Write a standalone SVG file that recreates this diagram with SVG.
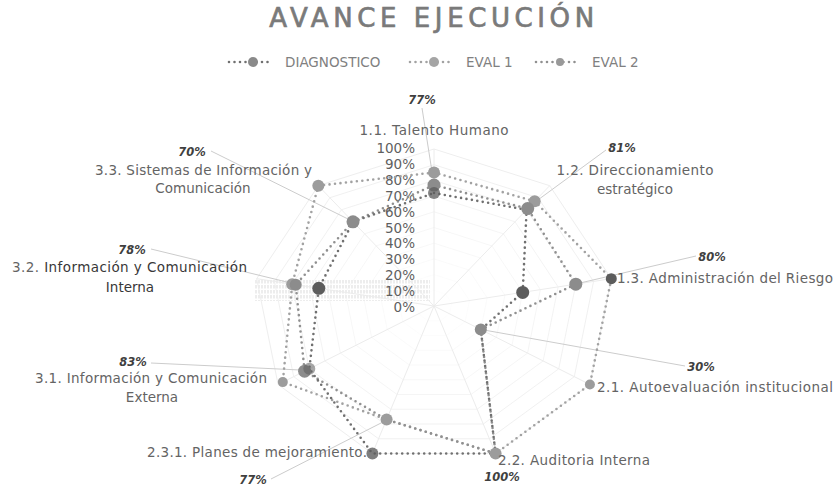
<svg xmlns="http://www.w3.org/2000/svg" width="836" height="490" viewBox="0 0 836 490">
<style>
  .title{font-family:"DejaVu Sans","Liberation Sans",sans-serif;font-size:26px;fill:#7a7a7a;stroke:#7a7a7a;stroke-width:0.7px;letter-spacing:4.6px}
  .leg{font-family:"DejaVu Sans","Liberation Sans",sans-serif;font-size:13.5px;fill:#808080}
  .cat{font-family:"DejaVu Sans","Liberation Sans",sans-serif;font-size:13.5px;fill:#646464}
  .catd{fill:#383838}
  .tick{font-family:"DejaVu Sans","Liberation Sans",sans-serif;font-size:13.5px;fill:#5f5f5f;text-anchor:end}
  .val{font-family:"DejaVu Sans","Liberation Sans",sans-serif;font-size:11.5px;font-weight:bold;font-style:italic;fill:#3f3f3f;text-anchor:middle}
  .grid{fill:none;stroke:#eeeeee;stroke-width:1;vector-effect:non-scaling-stroke}
  .axis{stroke:#ececec;stroke-width:1}
  .lead{stroke:#cccccc;stroke-width:1;fill:none}
  .ser{fill:none;stroke-width:2.6;stroke-dasharray:0 5.5;stroke-linecap:round;stroke-linejoin:round}
  .sD{stroke:#707070}
  .sA{stroke:#a2a2a2}
  .sL{stroke:#909090}
  .mD{fill:#5c5c5c}
  .mA{fill:#9c9c9c}
  .mL{fill:#8c8c8c}
</style>
<defs>
  <polygon id="ring" points="0,-157 115.7,-120.3 177.3,-27.3 155.9,78.5 61.6,147.5 -61.6,147.5 -155.9,78.5 -177.3,-27.3 -115.7,-120.3"/>
  <pattern id="hatch" width="3" height="5" patternUnits="userSpaceOnUse">
    <line x1="1" y1="0" x2="1" y2="3.5" stroke="#d2d2d2" stroke-width="1"/>
  </pattern>
</defs>
<rect width="836" height="490" fill="#fff"/>

<text class="title" x="434" y="27" text-anchor="middle">AVANCE EJECUCIÓN</text>

<g id="legend">
  <line class="ser sD" x1="229" y1="62" x2="271" y2="62" stroke-width="2" stroke="#999"/>
  <circle cx="253" cy="62" r="5" fill="#8a8a8a"/>
  <text class="leg" x="285" y="67">DIAGNOSTICO</text>
  <line class="ser sA" x1="410" y1="62" x2="452" y2="62" stroke-width="2"/>
  <circle cx="434" cy="62" r="5" fill="#a5a5a5"/>
  <text class="leg" x="466" y="67">EVAL 1</text>
  <line class="ser sL" x1="536" y1="62" x2="578" y2="62" stroke-width="2" stroke="#a0a0a0"/>
  <circle cx="560" cy="62" r="4" fill="#999"/>
  <text class="leg" x="592" y="67">EVAL 2</text>
</g>

<g id="grid">
  <rect x="255" y="279" width="175" height="22" fill="url(#hatch)" opacity="0.8"/>
  <use href="#ring" class="grid" transform="translate(434,306) scale(0.1)"/>
  <use href="#ring" class="grid" transform="translate(434,306) scale(0.2)"/>
  <use href="#ring" class="grid" transform="translate(434,306) scale(0.3)"/>
  <use href="#ring" class="grid" transform="translate(434,306) scale(0.4)"/>
  <use href="#ring" class="grid" transform="translate(434,306) scale(0.5)"/>
  <use href="#ring" class="grid" transform="translate(434,306) scale(0.6)"/>
  <use href="#ring" class="grid" transform="translate(434,306) scale(0.7)"/>
  <use href="#ring" class="grid" transform="translate(434,306) scale(0.8)"/>
  <use href="#ring" class="grid" transform="translate(434,306) scale(0.9)"/>
  <use href="#ring" class="grid" transform="translate(434,306) scale(1)"/>
  <line class="axis" x1="434" y1="306" x2="434" y2="149"/>
  <line class="axis" x1="434" y1="306" x2="549.7" y2="185.7"/>
  <line class="axis" x1="434" y1="306" x2="611.3" y2="278.7"/>
  <line class="axis" x1="434" y1="306" x2="589.9" y2="384.5"/>
  <line class="axis" x1="434" y1="306" x2="495.6" y2="453.5"/>
  <line class="axis" x1="434" y1="306" x2="372.4" y2="453.5"/>
  <line class="axis" x1="434" y1="306" x2="278.1" y2="384.5"/>
  <line class="axis" x1="434" y1="306" x2="256.7" y2="278.7"/>
  <line class="axis" x1="434" y1="306" x2="318.3" y2="185.7"/>
</g>

<g id="ticks">
  <text class="tick" x="415" y="312">0%</text>
  <text class="tick" x="415" y="296.1">10%</text>
  <text class="tick" x="415" y="280.2">20%</text>
  <text class="tick" x="415" y="264.3">30%</text>
  <text class="tick" x="415" y="248.4">40%</text>
  <text class="tick" x="415" y="232.5">50%</text>
  <text class="tick" x="415" y="216.6">60%</text>
  <text class="tick" x="415" y="200.7">70%</text>
  <text class="tick" x="415" y="184.8">80%</text>
  <text class="tick" x="415" y="168.9">90%</text>
  <text class="tick" x="415" y="153">100%</text>
</g>

<g id="connectors">
  <line class="lead" x1="422" y1="108" x2="433" y2="178"/>
  <line class="lead" x1="606" y1="150" x2="531" y2="205"/>
  <line class="lead" x1="696" y1="256" x2="580" y2="283"/>
  <line class="lead" x1="685" y1="366" x2="484" y2="330"/>
  <line class="lead" x1="271" y1="479" x2="383" y2="422"/>
  <line class="lead" x1="151" y1="363" x2="300" y2="370"/>
  <line class="lead" x1="151" y1="249" x2="291" y2="283"/>
  <line class="lead" x1="211" y1="151" x2="350" y2="220"/>
  <polygon class="ser sA" points="434,172.5 534.7,201.3 611.3,278.7 589.9,384.5 495.6,453.5 386.6,419.6 282.8,382.1 292.2,284.2 318.3,185.7"/>
  <polygon class="ser sL" points="434,185.1 527.7,208.6 575.8,284.2 480.8,329.6 495.6,453.5 386.6,419.6 304.6,371.2 295.7,284.7 353,221.8"/>
  <polygon class="ser sD" points="434,193 526.6,209.8 522.7,292.4 480.8,329.6 495.6,453.5 372.4,453.5 309.3,368.8 318.8,288.3 353,221.8"/>
</g>

<g id="markers-eval1">
  <circle class="mA" cx="434" cy="172.5" r="6"/>
  <circle class="mA" cx="534.7" cy="201.3" r="6"/>
  <circle class="mD" cx="611.3" cy="278.7" r="5.5"/>
  <circle class="mA" cx="589.9" cy="384.5" r="5"/>
  <circle class="mA" cx="495.6" cy="453.5" r="6"/>
  <circle class="mA" cx="386.6" cy="419.6" r="6"/>
  <circle class="mA" cx="282.8" cy="382.1" r="5"/>
  <circle class="mA" cx="292.2" cy="284.2" r="6"/>
  <circle class="mA" cx="318.3" cy="185.7" r="6"/>
</g>
<g id="markers-eval2">
  <circle class="mL" cx="434" cy="185.1" r="6.5"/>
  <circle class="mL" cx="527.7" cy="208.6" r="6.5"/>
  <circle class="mL" cx="575.8" cy="284.2" r="6.5"/>
  <circle class="mL" cx="480.8" cy="329.6" r="6"/>
  <circle class="mL" cx="304.6" cy="371.2" r="6.5"/>
  <circle class="mL" cx="295.7" cy="284.7" r="6"/>
  <circle class="mL" cx="353" cy="221.8" r="6.5"/>
</g>
<g id="markers-diagnostico">
  <circle class="mD" cx="434" cy="193" r="6" fill-opacity="0.75"/>
  <circle class="mD" cx="522.7" cy="292.4" r="6.5"/>
  <circle class="mD" cx="372.4" cy="453.5" r="6" fill-opacity="0.8"/>
  <circle class="mD" cx="309.3" cy="368.8" r="6" fill-opacity="0.55"/>
  <circle class="mD" cx="318.8" cy="288.3" r="6.5"/>
</g>

<g id="cat-1-1"><text class="cat" x="434" y="135" text-anchor="middle" textLength="149">1.1. Talento Humano</text></g>
<g id="cat-1-2">
  <text class="cat" x="635" y="175" text-anchor="middle" textLength="157">1.2. Direccionamiento</text>
  <text class="cat" x="635" y="194" text-anchor="middle">estratégico</text>
</g>
<g id="cat-1-3"><text class="cat" x="617" y="283" textLength="216">1.3. Administración del Riesgo</text></g>
<g id="cat-2-1"><text class="cat" x="597" y="392" textLength="236">2.1. Autoevaluación institucional</text></g>
<g id="cat-2-2"><text class="cat" x="498" y="465" textLength="152">2.2. Auditoria Interna</text></g>
<g id="cat-2-3-1"><text class="cat" x="147" y="457" textLength="220">2.3.1. Planes de mejoramiento.</text></g>
<g id="cat-3-1">
  <text class="cat" x="35" y="383" textLength="232">3.1. Información y Comunicación</text>
  <text class="cat" x="152" y="402" text-anchor="middle">Externa</text>
</g>
<g id="cat-3-2">
  <text class="cat" x="12" y="272" textLength="235">3.2. <tspan class="catd">Información y Comunicación</tspan></text>
  <text class="cat catd" x="130" y="292" text-anchor="middle">Interna</text>
</g>
<g id="cat-3-3">
  <text class="cat" x="95" y="175" textLength="217">3.3. Sistemas de Información y</text>
  <text class="cat" x="203" y="193" text-anchor="middle">Comunicación</text>
</g>

<g id="values">
  <text class="val" x="422" y="104">77%</text>
  <text class="val" x="622" y="152">81%</text>
  <text class="val" x="712" y="261">80%</text>
  <text class="val" x="701" y="371">30%</text>
  <text class="val" x="502" y="481">100%</text>
  <text class="val" x="253" y="484">77%</text>
  <text class="val" x="133" y="366">83%</text>
  <text class="val" x="132" y="254">78%</text>
  <text class="val" x="192" y="156">70%</text>
</g>
</svg>
